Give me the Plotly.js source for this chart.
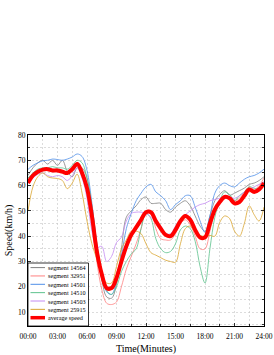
<!DOCTYPE html>
<html>
<head>
<meta charset="utf-8">
<script src="https://cdn.plot.ly/plotly-3.0.1.min.js"></script>
<style>
  html, body { margin: 0; padding: 0; background: #ffffff; }
  #chart { width: 274px; height: 355px; }
</style>
</head>
<body>
<div id="chart"></div>
<script>
// time of day in minutes (every 30 minutes)
const timeMinutes = [0,30,60,90,120,150,180,210,240,270,300,330,360,390,420,450,480,510,540,570,600,630,660,690,720,750,780,810,840,870,900,930,960,990,1020,1050,1080,1110,1140,1170,1200,1230,1260,1290,1320,1350,1380,1410,1440];

const tickValues = [0,180,360,540,720,900,1080,1260,1440];
const tickLabels = ['00:00','03:00','06:00','09:00','12:00','15:00','18:00','21:00','24:00'];

const seriesNames = ['segment 14564','segment 32951','segment 14501','segment 14510','segment 14503','segment 25915','average speed'];

const seg14564 = [64,67,69,70,68.5,70,68,70,65.5,63.5,67,67,63,50,35,23,16,15.5,21,35,47.5,50,52,54.5,55.5,53,53,53,50.5,49.5,51.5,53,54,52,48,44,42,48,54,56.5,58,56.2,57,58,59,60.5,61,62,63.5];
const seg32951 = [63,64.5,66,66,66.5,66,65.5,65,65,67.5,69,66,58,45,30,19,13.5,13,14,20,27,32,37,43,50,50,43,39,38.5,38.5,41,45,46.5,44.5,40,35,35,42,50,54,56,55.5,54,55,57.5,59.5,58.5,60,63];
const seg14501 = [66.4,68,69,69.8,70,70.5,70.3,70,70.5,71.3,72.5,71.5,66,53,37,25,18,17,22,32,43,49,54,57,59.5,60.5,57.5,56,54,50.5,52.5,54,56,56,51.5,46,41.5,48,57,60,61,60,59.5,61,62.5,63.5,64,65,66.5];
const seg14510 = [63,65,66.5,67,67,67.5,67,67,66.5,68,70,69,63,52,37,26,18.5,17,20,26,30,33,35,43,49,47,39,35,33.5,34,37,42.5,44,43,38,28,21.5,35,47.5,54,57.5,56.5,54,56,57.5,59.5,59,58.5,61.5];
const seg14503 = [61,63,64.5,65,64,63.5,64,63.5,62,64,67,63,55,42,35.5,36,30,32,37.5,39.6,46,49,49.5,49.5,49,47.5,45.5,44,41,41,44,46.5,48.5,50,51.5,52.5,53,54,54.5,55,55.5,55.5,55,56,57.5,58.5,59.5,60.5,61.5];
const seg25915 = [50,59.5,63.5,65,63.5,63,62.8,62,58.8,61,64.5,57,46,37,31,25,21.5,21.5,28,35,38.5,42,42,41,37,33.5,32.5,31.5,30.5,30,29.7,37,43,44,41.6,40.3,40,40.3,40,45.5,48,47,42,40,45,52,48.5,46,51.5];
const averageSpeed = [61,64,65.5,66.3,66.5,66,66,65.5,65,66.5,68.5,65,59,48,34,25,19.5,19.5,23.5,30,36,40.5,43.5,46.5,49.5,49.5,46,43,40.5,40,42.5,46,48,46.5,42.5,39.5,39.5,45,50.5,53.5,55.5,55,53,53.5,56,58.5,57.5,58.5,61];

const allSeries = [seg14564, seg32951, seg14501, seg14510, seg14503, seg25915, averageSpeed];
const colors = ['#808080','#ff8080','#4f8fe8','#5cc28c','#c48cf2','#d9a530','#ff0000'];
const widths = [0.8,0.8,0.8,0.8,0.8,0.8,4];

const serif = 'Liberation Serif, Times New Roman, serif';

const traces = allSeries.map((ys, i) => ({
  type: 'scatter',
  mode: 'lines',
  name: seriesNames[i],
  x: timeMinutes,
  y: ys,
  line: {color: colors[i], width: widths[i], shape: 'spline', smoothing: 1},
  hoverinfo: 'skip'
}));

// plot area in pixels
const W = 274, H = 355;
const L = 28, R = 10, T = 135, B = 29;
const pw = W - L - R, ph = H - T - B;
const px = x => (x - L) / pw;
const py = y => (H - B - y) / ph;

// custom compact legend (box, line samples, labels)
const shapes = [{
  type: 'rect', xref: 'paper', yref: 'paper', layer: 'above',
  x0: 0, x1: px(88.5), y0: 0, y1: py(263),
  fillcolor: '#ffffff', line: {color: '#000000', width: 0.8}
}];
const annotations = [];
seriesNames.forEach((nm, i) => {
  const yc = 267.6 + i * 8.35;
  shapes.push({
    type: 'line', xref: 'paper', yref: 'paper', layer: 'above',
    x0: px(30.5), x1: px(45), y0: py(yc), y1: py(yc),
    line: {color: colors[i], width: i === 6 ? 3.5 : 1}
  });
  annotations.push({
    xref: 'paper', yref: 'paper', x: px(46), y: py(yc),
    xanchor: 'left', yanchor: 'middle', showarrow: false,
    text: nm, font: {family: serif, size: 6.2, color: '#000000'}
  });
});

const minorX = [];
for (let v = 90; v < 1440; v += 180) minorX.push(v);

const gridStyle = {gridcolor: '#c4c4c4', griddash: '2px,2px', gridwidth: 0.6};

const layout = {
  width: W, height: H,
  margin: {l: L, r: R, t: T, b: B, pad: 0},
  paper_bgcolor: '#ffffff',
  plot_bgcolor: '#ffffff',
  showlegend: false,
  font: {family: serif, color: '#000000'},
  xaxis: {
    range: [0, 1440],
    tickmode: 'array', tickvals: tickValues, ticktext: tickLabels,
    ticks: 'inside', ticklen: 3, tickwidth: 0.8, tickcolor: '#000',
    showline: true, linecolor: '#000', linewidth: 1, mirror: 'allticks',
    showgrid: true, ...gridStyle,
    zeroline: false, automargin: false,
    ticklabelstandoff: 3,
    tickfont: {family: serif, size: 7.5, color: '#000'},
    minor: {tickmode: 'array', tickvals: minorX, ticks: 'inside', ticklen: 2, tickcolor: '#000', showgrid: true, ...gridStyle},
    title: {text: 'Time(Minutes)', font: {family: serif, size: 10, color: '#000'}, standoff: 5}
  },
  yaxis: {
    range: [4.5, 80],
    tickmode: 'linear', tick0: 0, dtick: 10,
    ticks: 'inside', ticklen: 3, tickwidth: 0.8, tickcolor: '#000',
    showline: true, linecolor: '#000', linewidth: 1, mirror: 'allticks',
    showgrid: true, ...gridStyle,
    zeroline: false, automargin: false,
    tickfont: {family: serif, size: 7.5, color: '#000'},
    minor: {tickmode: 'linear', tick0: 0, dtick: 5, ticks: 'inside', ticklen: 2, tickcolor: '#000', showgrid: true, ...gridStyle},
    title: {text: 'Speed(km/h)', font: {family: serif, size: 10, color: '#000'}, standoff: 3}
  },
  shapes: shapes,
  annotations: annotations
};

Plotly.newPlot('chart', traces, layout, {displayModeBar: false, staticPlot: true});
</script>
</body>
</html>
